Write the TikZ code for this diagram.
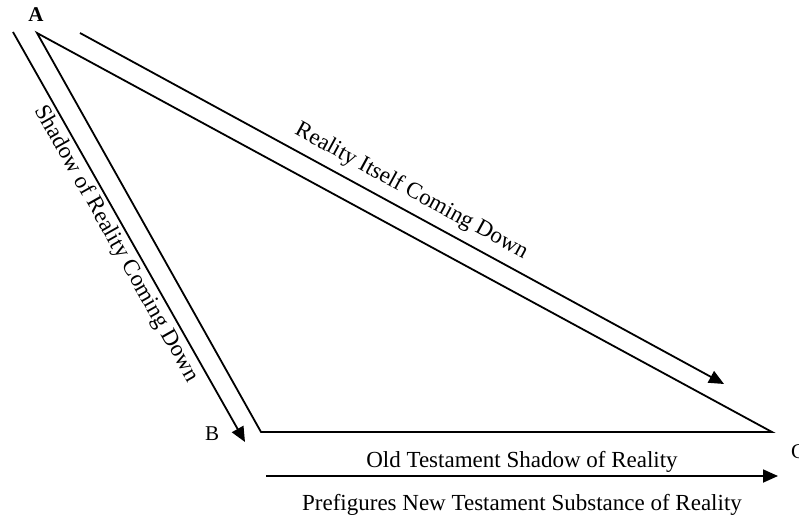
\documentclass[tikz,border=0pt]{standalone}
\usepackage{fontspec}
\setmainfont{Liberation Serif}
\usetikzlibrary{arrows.meta}

\begin{document}
\begin{tikzpicture}[x=1pt, y=-1pt,
    side/.style={line width=1.8pt, black},
    flow/.style={line width=1.8pt, -{Triangle[length=15pt, width=13pt]}},
    lbl/.style={font=\fontsize{23}{27}\selectfont, inner sep=1pt},
    vtx/.style={font=\fontsize{21}{25}\selectfont, inner sep=1pt}
  ]
    \useasboundingbox (0,0) rectangle (799,516);

    % Triangle corners
    \coordinate (A) at (37,33);
    \coordinate (B) at (261,432);
    \coordinate (C) at (772,432);
    \draw[side] (A) -- (B) -- (C) -- cycle;

    \node[vtx, font=\fontsize{21}{25}\selectfont\bfseries] (la) at (36,15) {A};
    \node[vtx] (lb) at (212,434) {B};
    \node[vtx] (lc) at (798,452) {C};

    % Arrows beside the sides
    \coordinate (s1) at (13,32);
    \coordinate (s2) at (245,442);
    \draw[flow] (s1) -- (s2)
      node[lbl, midway, sloped, below=2pt] (shadow) {Shadow of Reality Coming Down};

    \coordinate (r1) at (80,33);
    \coordinate (r2) at (724,384);
    \draw[flow] (r1) -- (r2)
      node[lbl, midway, sloped, above=7pt] (itself) {Reality Itself Coming Down};

    \coordinate (o1) at (266,476);
    \coordinate (o2) at (778,476);
    \draw[flow] (o1) -- (o2)
      node[lbl, midway, above=2pt] (old) {Old Testament Shadow of Reality}
      node[lbl, midway, below=16pt] (new) {Prefigures New Testament Substance of Reality};
\end{tikzpicture}
\end{document}
